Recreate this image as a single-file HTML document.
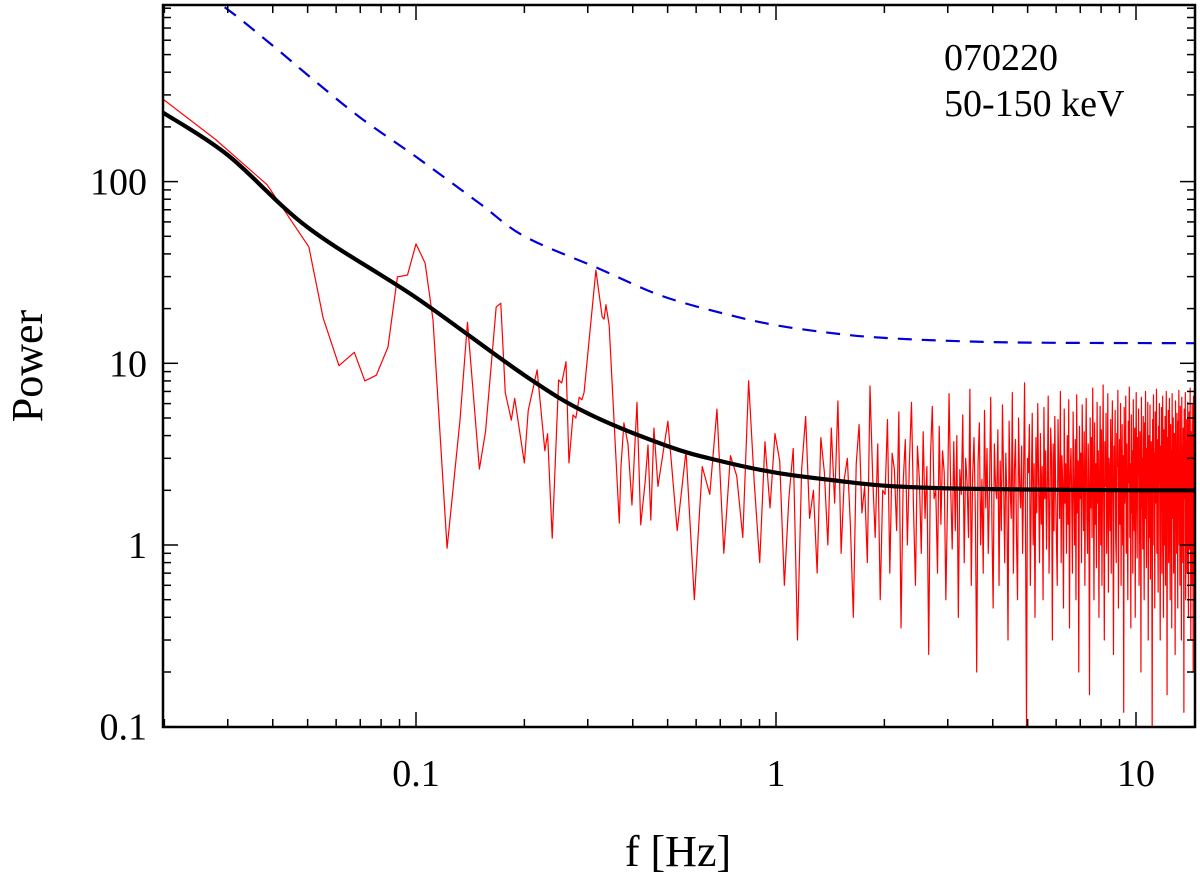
<!DOCTYPE html>
<html><head><meta charset="utf-8"><style>
html,body{margin:0;padding:0;background:#fff;}
svg{display:block;}
text{font-family:"Liberation Serif",serif;fill:#000;}
</style></head><body>
<svg id="chart" width="1200" height="879" viewBox="0 0 1200 879" xmlns="http://www.w3.org/2000/svg">
<defs><clipPath id="plotclip"><rect x="163" y="5" width="1032" height="722"/></clipPath></defs>
<g id="series" clip-path="url(#plotclip)"></g>
<g id="axes"></g>
<text x="944" y="70" font-size="38">070220</text>
<text x="944" y="116" font-size="38">50-150 keV</text>
<text x="678" y="866" font-size="44" text-anchor="middle">f [Hz]</text>
<text transform="translate(42,366) rotate(-90)" font-size="44" text-anchor="middle">Power</text>
</svg>
<script>
const lowF=[0.0198,0.0277,0.0386,0.0504,0.0552,0.0611,0.0674,0.0721,0.0776,0.0836,0.0888,0.0947,0.1,0.106,0.1115,0.122,0.1325,0.139,0.150,0.156,0.167,0.172,0.177,0.184,0.188,0.200,0.205,0.217,0.228,0.232,0.239,0.249,0.254,0.261,0.266,0.273,0.278,0.284,0.289,0.293,0.316,0.329,0.333,0.337,0.344,0.367,0.371,0.378,0.388,0.398,0.411,0.421,0.433,0.441,0.449,0.458];
const lowP=[285,171,96,43.7,17.8,9.7,11.5,8.0,8.6,12.3,29.9,30.6,45.4,35.6,17.3,0.96,4.87,16.8,2.62,4.2,20.4,21.4,6.9,4.87,6.4,2.83,5.5,9.2,3.3,4.1,1.09,8.1,7.8,10.2,2.83,5.2,5.0,6.5,6.3,6.9,32.6,18.0,17.5,21,16.2,1.32,2.7,4.7,3.6,1.66,6.1,1.29,2.22,3.55,1.37,4.4];
const noiseStartF=0.47, noiseEndF=14.6;
const noiseP=[2.1,4.8,1.2,3.3,0.5,2.7,1.9,5.6,0.9,3.1,2.4,1.1,8.0,2.2,0.8,3.7,1.6,4.1,2.9,0.6,
1.8,3.4,0.3,2.6,5.1,1.4,2.0,0.7,3.9,2.5,1.0,4.4,1.7,6.2,0.9,2.3,3.0,1.3,0.4,2.8,
4.6,1.5,2.1,0.8,7.5,2.4,1.1,3.6,0.5,2.0,1.9,4.9,0.7,3.2,2.6,1.2,5.4,0.35,2.2,3.8,
1.0,2.9,6.1,1.6,0.6,3.5,2.3,0.9,4.2,1.4,2.7,0.25,3.1,5.8,1.8,2.0,0.7,4.5,1.3,3.3,
2.5,0.5,1.7,6.8,2.1,0.95,3.7,1.2,4.0,0.4,2.6,1.9,5.2,0.8,3.0,2.2,1.1,7.2,0.6,2.4,
3.9,1.5,0.2,2.8,4.7,1.0,2.3,0.7,5.5,1.6,3.4,0.9,2.0,6.5,1.3,0.45,3.6,2.1,1.8,4.3,
0.6,2.9,1.2,5.9,2.4,0.8,3.2,1.7,0.3,4.8,2.0,1.4,6.9,0.7,2.6,3.8,1.1,0.5,5.0,2.2,
1.6,3.5,0.9,2.3,7.8,1.2,0.1,3.0,2.5,4.6,0.6,1.9,5.3,1.0,2.8,0.4,3.9,1.5,6.0,2.1,
0.8,4.1,1.3,2.7,0.5,5.7,1.8,3.3,0.95,2.2,6.6,0.7,1.6,4.4,2.9,0.3,3.6,1.2,5.1,2.0,
1.1,0.6,4.9,2.5,1.4,7.0,0.8,3.1,2.2,0.45,5.6,1.7,2.8,0.9,4.0,1.3,6.3,0.35,2.4,3.4,
1.9,0.7,5.4,2.1,1.0,3.8,0.5,6.7,1.5,2.9,0.2,4.5,1.8,3.2,0.8,5.9,2.3,1.2,4.2,0.6,
2.7,6.4,1.4,0.9,3.6,2.0,0.15,5.0,1.6,3.9,1.1,7.3,2.4,0.5,4.7,1.3,2.8,0.75,6.1,1.7,
3.3,0.4,2.2,5.8,1.0,4.3,0.6,2.6,7.6,1.5,0.3,3.7,2.1,5.3,0.9,1.8,6.8,0.55,3.0,2.4,
1.2,4.9,0.7,2.9,6.2,1.6,0.25,3.5,2.0,5.5,1.1,0.8,4.1,2.7,7.1,0.45,1.9,3.8,1.3,6.0,
0.6,2.5,4.6,1.0,3.1,0.12,5.7,1.7,2.3,6.6,0.9,3.6,1.4,0.5,4.8,2.2,7.4,1.1,2.8,0.35,
5.2,1.5,3.3,0.7,6.3,2.0,1.2,4.4,0.4,2.6,6.9,1.8,0.85,3.9,2.4,5.6,0.6,1.3,4.2,2.9,
0.2,6.5,1.6,3.0,0.95,5.1,2.1,0.5,4.7,1.4,7.0,2.5,0.75,3.4,1.9,6.1,0.3,2.7,4.0,1.1,
5.9,0.65,2.3,3.7,1.5,0.08,4.9,2.0,6.7,1.0,3.2,0.45,5.4,1.7,2.6,7.2,0.9,3.8,1.3,0.55,
4.5,2.2,6.0,1.2,0.3,3.5,1.8,5.7,0.7,2.9,6.6,1.4,0.4,4.3,2.4,1.0,5.1,0.6,3.1,7.0,
1.6,0.15,3.9,2.1,5.5,0.8,2.7,6.4,1.1,0.5,4.6,1.9,3.3,0.35,6.8,2.3,1.4,5.0,0.7,2.8,
4.1,1.2,0.25,6.2,2.0,3.6,0.9,5.3,1.5,0.45,4.8,2.5,7.1,1.0,3.0,0.6,5.8,1.7,2.4,0.3,
6.5,1.3,3.4,0.8,4.4,2.1,0.12,5.6,1.8,2.9,6.9,0.5,3.7,1.1,4.9,0.7,2.6,6.1,1.4,0.4,
3.2,5.4,0.95,2.2,7.3,1.6,0.3,4.2,2.7,0.6,5.9,1.2,3.5,0.2,6.6,2.0,1.0,4.6,0.5,3.0];
const modelF=[0.0198,0.03,0.05,0.1,0.2,0.3,0.5,0.7,1,1.5,2,3,5,10,14.6];
const modelP=[240,140,56,23,8.6,5.3,3.5,2.9,2.5,2.25,2.12,2.05,2.02,2.0,2.0];
const boundF=[0.02,0.029,0.04,0.052,0.07,0.1,0.15,0.2,0.32,0.476,0.7,1,1.5,2,3,5,14.6];
const boundP=[1500,930,560,362,225,137,76,50,33.4,23.7,19,16.2,14.5,13.8,13.3,13.0,12.9];
const xTickMajor=[0.1,1,10];
const xTickLabels=["0.1","1","10"];
const yTickMajor=[0.1,1,10,100];
const yTickLabels=["0.1","1","10","100"];

const X0=163,X1=1195,Y0=5,Y1=727;
function xs(f){return 776+360*Math.log10(f);}
function ys(p){return 545-181.7*Math.log10(p);}
const NS="http://www.w3.org/2000/svg";
const series=document.getElementById('series');
const axes=document.getElementById('axes');
function mk(tag,attrs,parent){const e=document.createElementNS(NS,tag);for(const k in attrs)e.setAttribute(k,attrs[k]);parent.appendChild(e);return e;}
function smoothPath(F,P){const p=F.map((f,i)=>[xs(f),ys(P[i])]);let d="M"+p[0][0].toFixed(2)+","+p[0][1].toFixed(2);
 for(let i=0;i<p.length-1;i++){const a=p[Math.max(0,i-1)],b=p[i],c=p[i+1],e=p[Math.min(p.length-1,i+2)];
  const c1=[b[0]+(c[0]-a[0])/6,b[1]+(c[1]-a[1])/6],c2=[c[0]-(e[0]-b[0])/6,c[1]-(e[1]-b[1])/6];
  d+=" C"+c1.map(v=>v.toFixed(2)).join(",")+" "+c2.map(v=>v.toFixed(2)).join(",")+" "+c[0].toFixed(2)+","+c[1].toFixed(2);}
 return d;}

let pts=[];
for(let i=0;i<lowF.length;i++)pts.push(xs(lowF[i]).toFixed(2)+","+ys(lowP[i]).toFixed(2));
const step=(noiseEndF-noiseStartF)/(noiseP.length-1);
for(let i=0;i<noiseP.length;i++){const f=noiseStartF+i*step;pts.push(xs(f).toFixed(2)+","+ys(noiseP[i]).toFixed(2));}
const red=mk('polyline',{points:pts.join(' '),fill:'none',stroke:'#ff0000','stroke-width':1.2,'stroke-linejoin':'round'},series);



const blue=mk('path',{d:smoothPath(boundF,boundP),fill:'none',stroke:'#0000dd','stroke-width':2.2,'stroke-dasharray':'14 10'},series);



const blk=mk('path',{d:smoothPath(modelF,modelP),fill:'none',stroke:'#000','stroke-width':4.2,'stroke-linejoin':'round'},series);



const fr=mk('rect',{x:X0,y:Y0,width:X1-X0,height:Y1-Y0,fill:'none',stroke:'#000','stroke-width':2.5},axes);



for(let d=-2;d<=1;d++){for(let m=1;m<=9;m++){const f=m*Math.pow(10,d);const x=xs(f);if(x<X0+1||x>X1-1)continue;const L=(m===1)?15:8;
 const t1=mk('line',{x1:x,y1:Y1,x2:x,y2:Y1-L,stroke:'#000','stroke-width':1.5},axes);
 
 
 const t2=mk('line',{x1:x,y1:Y0,x2:x,y2:Y0+L,stroke:'#000','stroke-width':1.5},axes);
 
 }}
xTickMajor.forEach((f,i)=>{const t=mk('text',{x:xs(f),y:Y1+59,'font-size':38,'text-anchor':'middle'},axes);t.textContent=xTickLabels[i];
 
 });
for(let d=-1;d<=2;d++){for(let m=1;m<=9;m++){const p=m*Math.pow(10,d);const y=ys(p);if(y<Y0+1||y>Y1+1)continue;const L=(m===1)?15:8;
 const t1=mk('line',{x1:X0,y1:y,x2:X0+L,y2:y,stroke:'#000','stroke-width':1.5},axes);
 
 
 const t2=mk('line',{x1:X1,y1:y,x2:X1-L,y2:y,stroke:'#000','stroke-width':1.5},axes);
 
 }}
yTickMajor.forEach((p,i)=>{const t=mk('text',{x:147,y:ys(p)+13,'font-size':38,'text-anchor':'end'},axes);t.textContent=yTickLabels[i];
 
 });
</script>
</body></html>
